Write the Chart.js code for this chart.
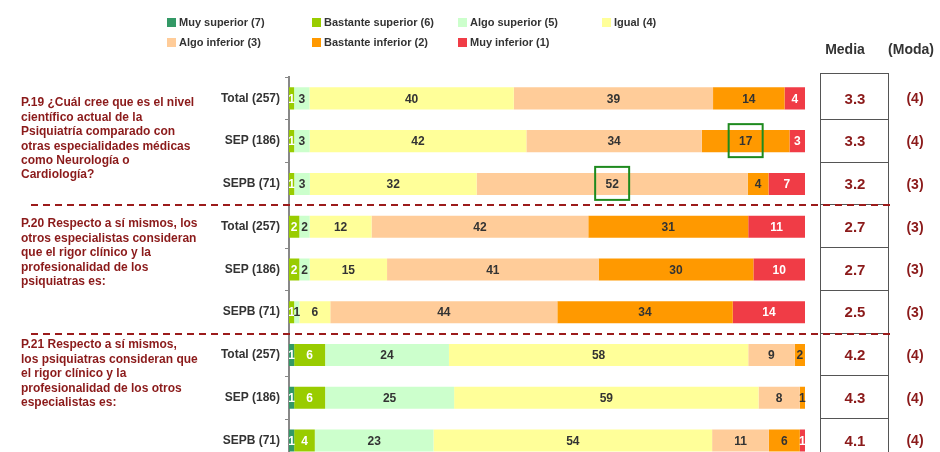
<!DOCTYPE html>
<html>
<head>
<meta charset="utf-8">
<script src="https://cdn.jsdelivr.net/npm/chart.js@4"></script>
<style>
  html, body { margin: 0; padding: 0; overflow: hidden; background: #fff; }
  #wrap { position: relative; width: 940px; height: 452px; overflow: hidden; }
  #chart { position: absolute; left: 0; top: 0; }
  .leg { position: absolute; font: bold 11px "Liberation Sans", Arial, sans-serif; color: #333; white-space: nowrap; line-height: 12px; }
  .leg i { display: inline-block; width: 9px; height: 9px; margin-right: 3px; vertical-align: -1px; }
</style>
</head>
<body>
<div id="wrap">
  <canvas id="chart" width="940" height="474"></canvas>
</div>
<script>
const categories = ["Total (257)", "SEP (186)", "SEPB (71)",
                    "Total (257)", "SEP (186)", "SEPB (71)",
                    "Total (257)", "SEP (186)", "SEPB (71)"];

const seriesNames = ["Muy superior (7)", "Bastante superior (6)", "Algo superior (5)", "Igual (4)",
                     "Algo inferior (3)", "Bastante inferior (2)", "Muy inferior (1)"];
const seriesColors = ["#339966", "#99CC00", "#CCFFCC", "#FFFF99", "#FFCC99", "#FF9900", "#F03C46"];
const labelColors = ["#fff", "#fff", "#333", "#333", "#333", "#333", "#fff"];

const muySuperior      = [0, 0, 0,   0, 0, 0,    1, 1, 1];
const bastanteSuperior = [1, 1, 1,   2, 2, 1,    6, 6, 4];
const algoSuperior     = [3, 3, 3,   2, 2, 1,    24, 25, 23];
const igual            = [40, 42, 32, 12, 15, 6, 58, 59, 54];
const algoInferior     = [39, 34, 52, 42, 41, 44, 9, 8, 11];
const bastanteInferior = [14, 17, 4, 31, 30, 34, 2, 1, 6];
const muyInferior      = [4, 3, 7,   11, 10, 14, 0, 0, 1];

const media = ["3.3", "3.3", "3.2", "2.7", "2.7", "2.5", "4.2", "4.3", "4.1"];
const moda  = ["(4)", "(4)", "(3)", "(3)", "(3)", "(3)", "(4)", "(4)", "(4)"];

const questions = [
  ["P.19 ¿Cuál cree que es el nivel", "científico actual de la", "Psiquiatría comparado con",
   "otras especialidades médicas", "como Neurología o", "Cardiología?"],
  ["P.20 Respecto a sí mismos, los", "otros especialistas consideran", "que el rigor clínico y la",
   "profesionalidad de los", "psiquiatras es:"],
  ["P.21 Respecto a sí mismos,", "los psiquiatras consideran que", "el rigor clínico y la",
   "profesionalidad de los otros", "especialistas es:"]
];
const questionTop = [103, 224, 345];

// boxed values: [series index, row index]
const highlights = [[5, 1], [4, 2]];

const allSeries = [muySuperior, bastanteSuperior, algoSuperior, igual, algoInferior, bastanteInferior, muyInferior];

// bar lengths scaled so each row fills 100
const rowTotals = categories.map((c, r) => allSeries.reduce((s, arr) => s + arr[r], 0));

const FONT = '"Liberation Sans", Arial, sans-serif';
const DARKRED = "#8B1A1A";

/* ===== LEGEND ===== */
const legLeft = [167, 312, 458, 602];
seriesNames.forEach((name, i) => {
  const d = document.createElement("div");
  d.className = "leg";
  d.style.left = legLeft[i % 4] + "px";
  d.style.top = (i < 4 ? 16 : 36) + "px";
  d.innerHTML = '<i style="background:' + seriesColors[i] + '"></i>' + name;
  document.getElementById("wrap").appendChild(d);
});

/* ===== EXTRAS ===== */
const extras = {
  id: "extras",
  afterDatasetsDraw(chart) {
    const ctx = chart.ctx;
    const y = chart.scales.y;
    const area = chart.chartArea;
    const step = (area.bottom - area.top) / categories.length;

    // values inside segments
    ctx.save();
    ctx.font = "bold 12px " + FONT;
    ctx.textAlign = "center";
    ctx.textBaseline = "middle";
    chart.data.datasets.forEach((ds, di) => {
      chart.getDatasetMeta(di).data.forEach((bar, r) => {
        const v = allSeries[di][r];
        if (!v) return;
        const p = bar.getProps(["x", "y", "base"], true);
        ctx.fillStyle = labelColors[di];
        ctx.fillText(String(v), (p.x + p.base) / 2, p.y + 1);
      });
    });

    // green highlight boxes
    ctx.strokeStyle = "#1E8A1E";
    ctx.lineWidth = 2;
    highlights.forEach(([di, r]) => {
      const p = chart.getDatasetMeta(di).data[r].getProps(["x", "y", "base"], true);
      const cx = (p.x + p.base) / 2;
      ctx.strokeRect(cx - 17, p.y - 17, 34, 33);
    });

    // media / moda table
    ctx.fillStyle = "#333";
    ctx.font = "bold 14px " + FONT;
    ctx.fillText("Media", 845, 50);
    ctx.fillText("(Moda)", 911, 50);

    ctx.strokeStyle = "#555";
    ctx.lineWidth = 1;
    const bx = 820.5, bw = 68;
    ctx.beginPath();
    ctx.moveTo(bx, area.top - 4); ctx.lineTo(bx, area.bottom);
    ctx.moveTo(bx + bw, area.top - 4); ctx.lineTo(bx + bw, area.bottom);
    ctx.moveTo(bx, area.top - 3.5); ctx.lineTo(bx + bw, area.top - 3.5);
    for (let r = 1; r < categories.length; r++) {
      const yy = Math.round(area.top + r * step) - 0.5;
      ctx.moveTo(bx, yy); ctx.lineTo(bx + bw, yy);
    }
    ctx.stroke();

    ctx.fillStyle = DARKRED;
    categories.forEach((c, r) => {
      const yy = y.getPixelForValue(r) + 1;
      ctx.font = "bold 15px " + FONT;
      ctx.fillText(media[r], 855, yy);
      ctx.font = "bold 14px " + FONT;
      ctx.fillText(moda[r], 915, yy);
    });

    // dashed separators between questions
    ctx.strokeStyle = "#9B1B1B";
    ctx.lineWidth = 2;
    ctx.setLineDash([7, 5]);
    [3, 6].forEach(r => {
      const yy = Math.round(area.top + r * step);
      ctx.beginPath();
      ctx.moveTo(31, yy); ctx.lineTo(890, yy);
      ctx.stroke();
    });
    ctx.setLineDash([]);

    // question texts
    ctx.fillStyle = DARKRED;
    ctx.font = "bold 12px " + FONT;
    ctx.textAlign = "left";
    questions.forEach((lines, q) => {
      lines.forEach((t, k) => ctx.fillText(t, 21, questionTop[q] + k * 14.4));
    });
    ctx.restore();
  }
};

/* ===== CHART ===== */
new Chart(document.getElementById("chart"), {
  type: "bar",
  data: {
    labels: categories,
    datasets: allSeries.map((arr, i) => ({
      label: seriesNames[i],
      data: arr.map((v, r) => v * 100 / rowTotals[r]),
      backgroundColor: seriesColors[i],
      borderWidth: 0,
      barPercentage: 0.515,
      categoryPercentage: 1
    }))
  },
  options: {
    indexAxis: "y",
    responsive: false,
    animation: false,
    layout: { padding: { top: 77, right: 135, bottom: 0, left: 0 } },
    plugins: { legend: { display: false }, tooltip: { enabled: false } },
    scales: {
      x: { stacked: true, min: 0, max: 100, display: false },
      y: {
        stacked: true,
        grid: { offset: true, drawOnChartArea: false, drawTicks: true, tickLength: 4, color: "#888" },
        border: { color: "#888", width: 2 },
        ticks: { color: "#333", font: { family: FONT, size: 12, weight: "bold" }, padding: 5 },
        afterFit(scale) { scale.width = 289; }
      }
    }
  },
  plugins: [extras]
});
</script>
</body>
</html>
